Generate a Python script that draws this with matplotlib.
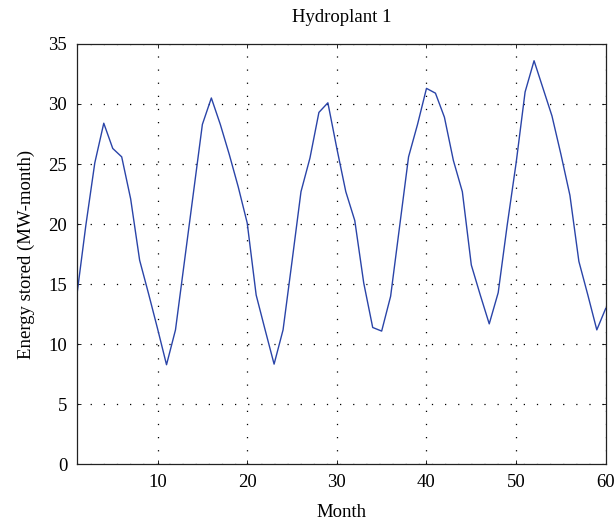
import matplotlib
matplotlib.use('Agg')
import matplotlib.pyplot as plt
import numpy as np

# monthly stored energy
months = np.arange(1, 61)
energy = [14.1, 19.9, 25.1, 28.4, 26.3, 25.6, 22.1, 17.0, 14.2, 11.3,
          8.3, 11.2, 16.9, 22.6, 28.3, 30.5, 28.3, 25.8, 23.1, 20.1,
          14.1, 11.2, 8.35, 11.2, 16.9, 22.7, 25.5, 29.3, 30.1, 26.3,
          22.7, 20.3, 15.1, 11.4, 11.1, 14.0, 19.8, 25.6, 28.3, 31.3,
          30.9, 28.9, 25.3, 22.7, 16.6, 14.1, 11.7, 14.3, 19.9, 25.1,
          31.0, 33.6, 31.3, 29.0, 25.8, 22.4, 16.9, 14.1, 11.2, 13.0]
xticks = [10, 20, 30, 40, 50, 60]
yticks = [0, 5, 10, 15, 20, 25, 30, 35]

plt.rcParams['font.family'] = ['Liberation Serif', 'DejaVu Serif']

fig = plt.figure(figsize=(6.15, 5.29), dpi=100)
ax = fig.add_axes([0.125, 0.122, 0.860, 0.795])
ax.plot(months, energy, color='#2a44a8', linewidth=1.0)

ax.set_xlim(1, 60)
ax.set_ylim(0, 35)
ax.set_xticks(xticks)
ax.set_yticks(yticks)
ax.tick_params(direction='in', top=True, right=True, labelsize=13.5, length=3, width=0.6)
ax.tick_params(axis='y', pad=7)
ax.tick_params(axis='x', pad=7)
ax.grid(True, linestyle=(0, (1, 9.5)), color='black', linewidth=0.9)
for s in ax.spines.values():
    s.set_linewidth(0.9)
    s.set_color('#222222')

ax.set_xlabel('Month', fontsize=13.5, labelpad=9)
ax.set_ylabel('Energy stored (MW-month)', fontsize=13.5, labelpad=10)
ax.set_title('Hydroplant 1', fontsize=13.5, pad=16)

fig.savefig('out.png', dpi=100)
